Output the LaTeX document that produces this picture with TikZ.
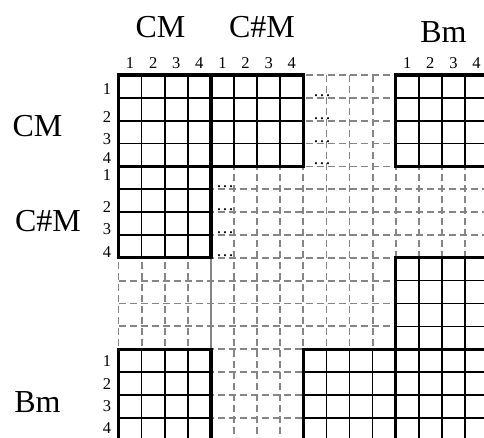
\documentclass[tikz,border=0pt]{standalone}
\usepackage{fontspec}
\setmainfont{Liberation Serif}
\begin{document}
\begin{tikzpicture}[x=1pt,y=-1pt,
  biglab/.style={inner sep=0pt,anchor=base,font=\fontsize{32}{36}\selectfont},
  numlab/.style={inner sep=0pt,font=\fontsize{16.5}{18}\selectfont},
  dotlab/.style={inner sep=0pt,anchor=base west,font=\fontsize{18}{18}\selectfont},
  dashgrid/.style={draw=black!48,line width=1.8pt,dash pattern=on 7pt off 4pt},
  solidgray/.style={draw=black!48,line width=1.6pt},
  innerline/.style={draw=black,line width=1.6pt},
  outerline/.style={draw=black,line width=3.2pt,line join=miter},
]
\useasboundingbox (0,0) rectangle (484,437);
\clip (0,0) rectangle (484,437);
\fill[white] (0,0) rectangle (484,437);
% grid in cell units
\begin{scope}[shift={(118.5,75)},x=23.1pt,y=-22.85pt]
  \foreach \i in {0,...,16} {
    \draw[dashgrid] (\i,0) -- (\i,16);
    \draw[dashgrid] (0,\i) -- (16,\i);
  }
  \draw[solidgray] (4,8) -- (4,12);
  \foreach \r/\c in {0/0,0/1,0/3,1/0,2/3,3/0,3/2,3/3} {
    \fill[white] ({4*\c},{4*\r}) rectangle ++(4,4);
    \foreach \k in {1,2,3} {
      \draw[innerline] ({4*\c+\k},{4*\r}) -- ++(0,4);
      \draw[innerline] ({4*\c},{4*\r+\k}) -- ++(4,0);
    }
  }
  \foreach \r/\c in {0/0,0/1,0/3,1/0,2/3,3/0,3/2,3/3} {
    \draw[outerline] ({4*\c},{4*\r}) rectangle ++(4,4);
  }
  % dots
  \foreach \k in {1,2,3,4} {
    \node[dotlab,yshift=1.5pt] (da\k) at (8.45,\k) {.\hspace{1.5pt}.\hspace{1.5pt}.};
    \node[dotlab,yshift=1.5pt] (db\k) at (4.25,{4+\k}) {.\hspace{1.5pt}.\hspace{1.5pt}.};
  }
  % column numbers
  \foreach \c in {0,4,12} {
    \foreach \k in {1,2,3,4} {
      \node[numlab,anchor=base] (c\c n\k) at ({\c+\k-0.5},0) [yshift=7pt] {\k};
    }
  }
\end{scope}
% row numbers
\foreach \y [count=\k] in {89,117,139,158} \node[numlab] (ra\k) at (107,\y) {\k};
\foreach \y [count=\k] in {175,207,229,252} \node[numlab] (rb\k) at (107,\y) {\k};
\foreach \y [count=\k] in {361,384,406,428} \node[numlab] (rc\k) at (107,\y) {\k};
% big labels
\node[biglab] (tcm) at (160.5,37.5) {CM};
\node[biglab] (tcs) at (262,37.5) {C\#M};
\node[biglab] (tbm) at (443.5,42) {Bm};
\node[biglab] (lcm) at (37.5,136.5) {CM};
\node[biglab] (lcs) at (48,231.5) {C\#M};
\node[biglab] (lbm) at (37.5,412) {Bm};
\end{tikzpicture}
\end{document}
